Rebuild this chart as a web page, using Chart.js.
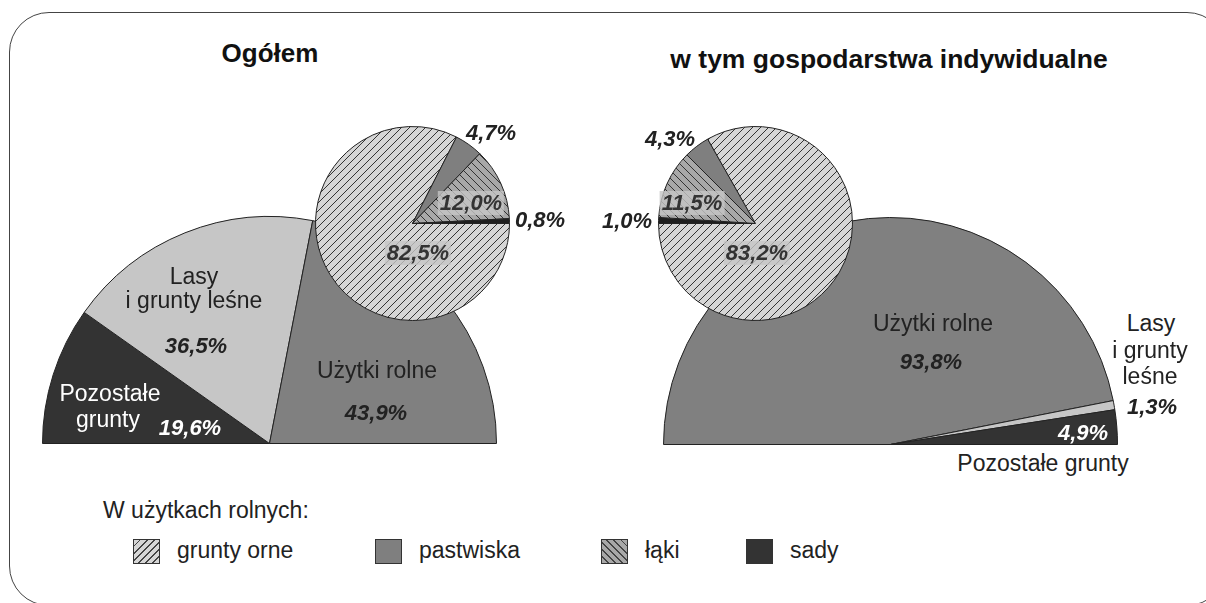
<!DOCTYPE html>
<html lang="pl">
<head>
    <meta charset="UTF-8">
    <title>Użytkowanie gruntów</title>
    <script src="https://cdn.jsdelivr.net/npm/chart.js"></script>
    <style>
        body { margin: 0; background: #fff; font-family: "Liberation Sans", Arial, sans-serif; }
        #page { position: relative; width: 1206px; height: 603px; overflow: hidden; }
        #frame {
            position: absolute; left: 9px; top: 12px; width: 1218px; height: 594px;
            border: 1px solid #444; border-radius: 40px; box-sizing: border-box;
        }
        canvas { position: absolute; }
        .txt {
            position: absolute; transform: translate(-50%, -50%);
            white-space: nowrap; line-height: 1; font-size: 23px; color: #222;
        }
        .title { font-weight: bold; font-size: 26px; color: #111; }
        .wide { font-size: 26.5px; }
        .pct { font-weight: bold; font-style: italic; font-size: 22px; }
        .white { color: #fff; }
        .boxed { background: rgba(198,198,198,0.8); color: #333; padding: 1px 2px; }
        .legend-head { position: absolute; left: 103px; top: 510px; transform: translateY(-50%);
            font-size: 23px; line-height: 1; color: #222; }
        .sw { position: absolute; width: 27px; height: 25px; box-sizing: border-box; border: 1px solid #333; }
        .lt { position: absolute; transform: translateY(-50%); font-size: 23px; line-height: 1; color: #222; }
    </style>
</head>
<body>
<div id="page">
    <div id="frame"></div>
    <canvas id="leftHalf"></canvas>
    <canvas id="rightHalf"></canvas>
    <canvas id="leftSmall"></canvas>
    <canvas id="rightSmall"></canvas>
    <div id="labels"></div>
    <div id="legend"></div>
</div>

<script>
    // land use (half pies)
    const landCategories = ['Użytki rolne', 'Lasy i grunty leśne', 'Pozostałe grunty'];
    const ogolemLand = [43.9, 36.5, 19.6];
    const indywLand = [93.8, 1.3, 4.9];
    const landColors = ['#808080', '#c6c6c6', '#333333'];

    // agricultural land (small pies)
    const agriCategories = ['grunty orne', 'pastwiska', 'łąki', 'sady'];
    const ogolemAgri = [82.5, 4.7, 12.0, 0.8];
    const indywAgri = [83.2, 4.3, 11.5, 1.0];

    const titles = ['Ogółem', 'w tym gospodarstwa indywidualne'];

    // hatch pattern for the pies
    function hatch(bg, dir) {
        let c = document.createElement('canvas');
        c.width = 8; c.height = 8;
        let x = c.getContext('2d');
        x.fillStyle = bg; x.fillRect(0, 0, 8, 8);
        x.strokeStyle = '#333'; x.lineWidth = 1;
        x.beginPath();
        if (dir > 0) {
            x.moveTo(-1, 9); x.lineTo(9, -1);
            x.moveTo(-1, 1); x.lineTo(1, -1);
            x.moveTo(7, 9); x.lineTo(9, 7);
        } else {
            x.moveTo(-1, -1); x.lineTo(9, 9);
            x.moveTo(-1, 7); x.lineTo(1, 9);
            x.moveTo(7, -1); x.lineTo(9, 1);
        }
        x.stroke();
        return x.createPattern(c, 'repeat');
    }
    const agriFill = [hatch('#d6d6d6', 1), '#7f7f7f', hatch('#a8a8a8', -1), '#1e1e1e'];
    const agriCss = [
        'repeating-linear-gradient(-45deg, #d6d6d6 0 4px, #444 4px 5px)',
        '#7f7f7f',
        'repeating-linear-gradient(45deg, #a8a8a8 0 4px, #444 4px 5px)',
        '#333'
    ];

    // size/position a canvas so the pie lands on (cx, cy) with radius r
    function place(id, cx, cy, r, half) {
        const pad = 4;
        let cv = document.getElementById(id);
        let w = 2 * r + 1 + 2 * pad;
        let h = (half ? r + 1 : 2 * r + 1) + 2 * pad;
        cv.width = w; cv.height = h;
        cv.style.width = w + 'px'; cv.style.height = h + 'px';
        cv.style.left = Math.round(cx - r - 0.5 - pad) + 'px';
        cv.style.top = Math.round(cy - r - 0.5 - pad) + 'px';
        return cv;
    }

    function pie(cv, labels, data, colors, rotation, circumference) {
        return new Chart(cv, {
            type: 'pie',
            data: {
                labels: labels,
                datasets: [{
                    data: data,
                    backgroundColor: colors,
                    borderColor: '#222',
                    borderWidth: 1
                }]
            },
            options: {
                responsive: false,
                animation: false,
                rotation: rotation,
                circumference: circumference,
                layout: { padding: 4 },
                plugins: { legend: { display: false }, tooltip: { enabled: false } }
            }
        });
    }

    const rev = a => a.slice().reverse();

    // left: clockwise from the left edge -> Pozostałe, Lasy, Użytki
    pie(place('leftHalf', 269, 443, 227, true), rev(landCategories), rev(ogolemLand), rev(landColors), -90, 180);
    pie(place('rightHalf', 890, 444, 227, true), landCategories, indywLand, landColors, -90, 180);
    // small pies: left starts at 3 o'clock, right starts at 9 o'clock (mirrored)
    pie(place('leftSmall', 412, 223, 97, false), agriCategories, ogolemAgri, agriFill, 90, 360);
    pie(place('rightSmall', 755, 223, 97, false), rev(agriCategories), rev(indywAgri), rev(agriFill), -90, 360);

    // text labels
    const fmt = v => v.toFixed(1).replace('.', ',') + '%';
    const labelSpecs = [
        [titles[0], 270, 53, 'title'],
        [titles[1], 889, 59, 'title wide'],
        ['Lasy', 194, 276, ''],
        ['i grunty leśne', 194, 300, ''],
        [fmt(ogolemLand[1]), 196, 346, 'pct'],
        ['Użytki rolne', 377, 370, ''],
        [fmt(ogolemLand[0]), 376, 413, 'pct'],
        ['Pozostałe', 110, 393, 'white'],
        ['grunty', 108, 419, 'white'],
        [fmt(ogolemLand[2]), 190, 428, 'pct white'],
        [fmt(ogolemAgri[1]), 491, 133, 'pct'],
        [fmt(ogolemAgri[2]), 471, 203, 'pct boxed'],
        [fmt(ogolemAgri[3]), 540, 220, 'pct'],
        [fmt(ogolemAgri[0]), 418, 253, 'pct boxed'],
        [fmt(indywAgri[1]), 670, 139, 'pct'],
        [fmt(indywAgri[2]), 692, 203, 'pct boxed'],
        [fmt(indywAgri[3]), 627, 221, 'pct'],
        [fmt(indywAgri[0]), 757, 253, 'pct boxed'],
        ['Użytki rolne', 933, 323, ''],
        [fmt(indywLand[0]), 931, 362, 'pct'],
        ['Lasy', 1151, 323, ''],
        ['i grunty', 1150, 350, ''],
        ['leśne', 1150, 376, ''],
        [fmt(indywLand[1]), 1152, 407, 'pct'],
        [fmt(indywLand[2]), 1083, 433, 'pct white'],
        ['Pozostałe grunty', 1043, 463, '']
    ];
    let lab = document.getElementById('labels');
    labelSpecs.forEach(s => {
        let d = document.createElement('div');
        d.className = 'txt ' + s[3];
        d.textContent = s[0];
        d.style.left = s[1] + 'px';
        d.style.top = s[2] + 'px';
        lab.appendChild(d);
    });

    // legend
    let leg = document.getElementById('legend');
    let head = document.createElement('div');
    head.className = 'legend-head';
    head.textContent = 'W użytkach rolnych:';
    leg.appendChild(head);
    const swX = [133, 375, 601, 746];
    agriCategories.forEach((name, i) => {
        let sw = document.createElement('div');
        sw.className = 'sw';
        sw.style.left = swX[i] + 'px';
        sw.style.top = '539px';
        sw.style.background = agriCss[i];
        leg.appendChild(sw);
        let t = document.createElement('div');
        t.className = 'lt';
        t.textContent = name;
        t.style.left = (swX[i] + 44) + 'px';
        t.style.top = '550px';
        leg.appendChild(t);
    });
</script>
</body>
</html>
